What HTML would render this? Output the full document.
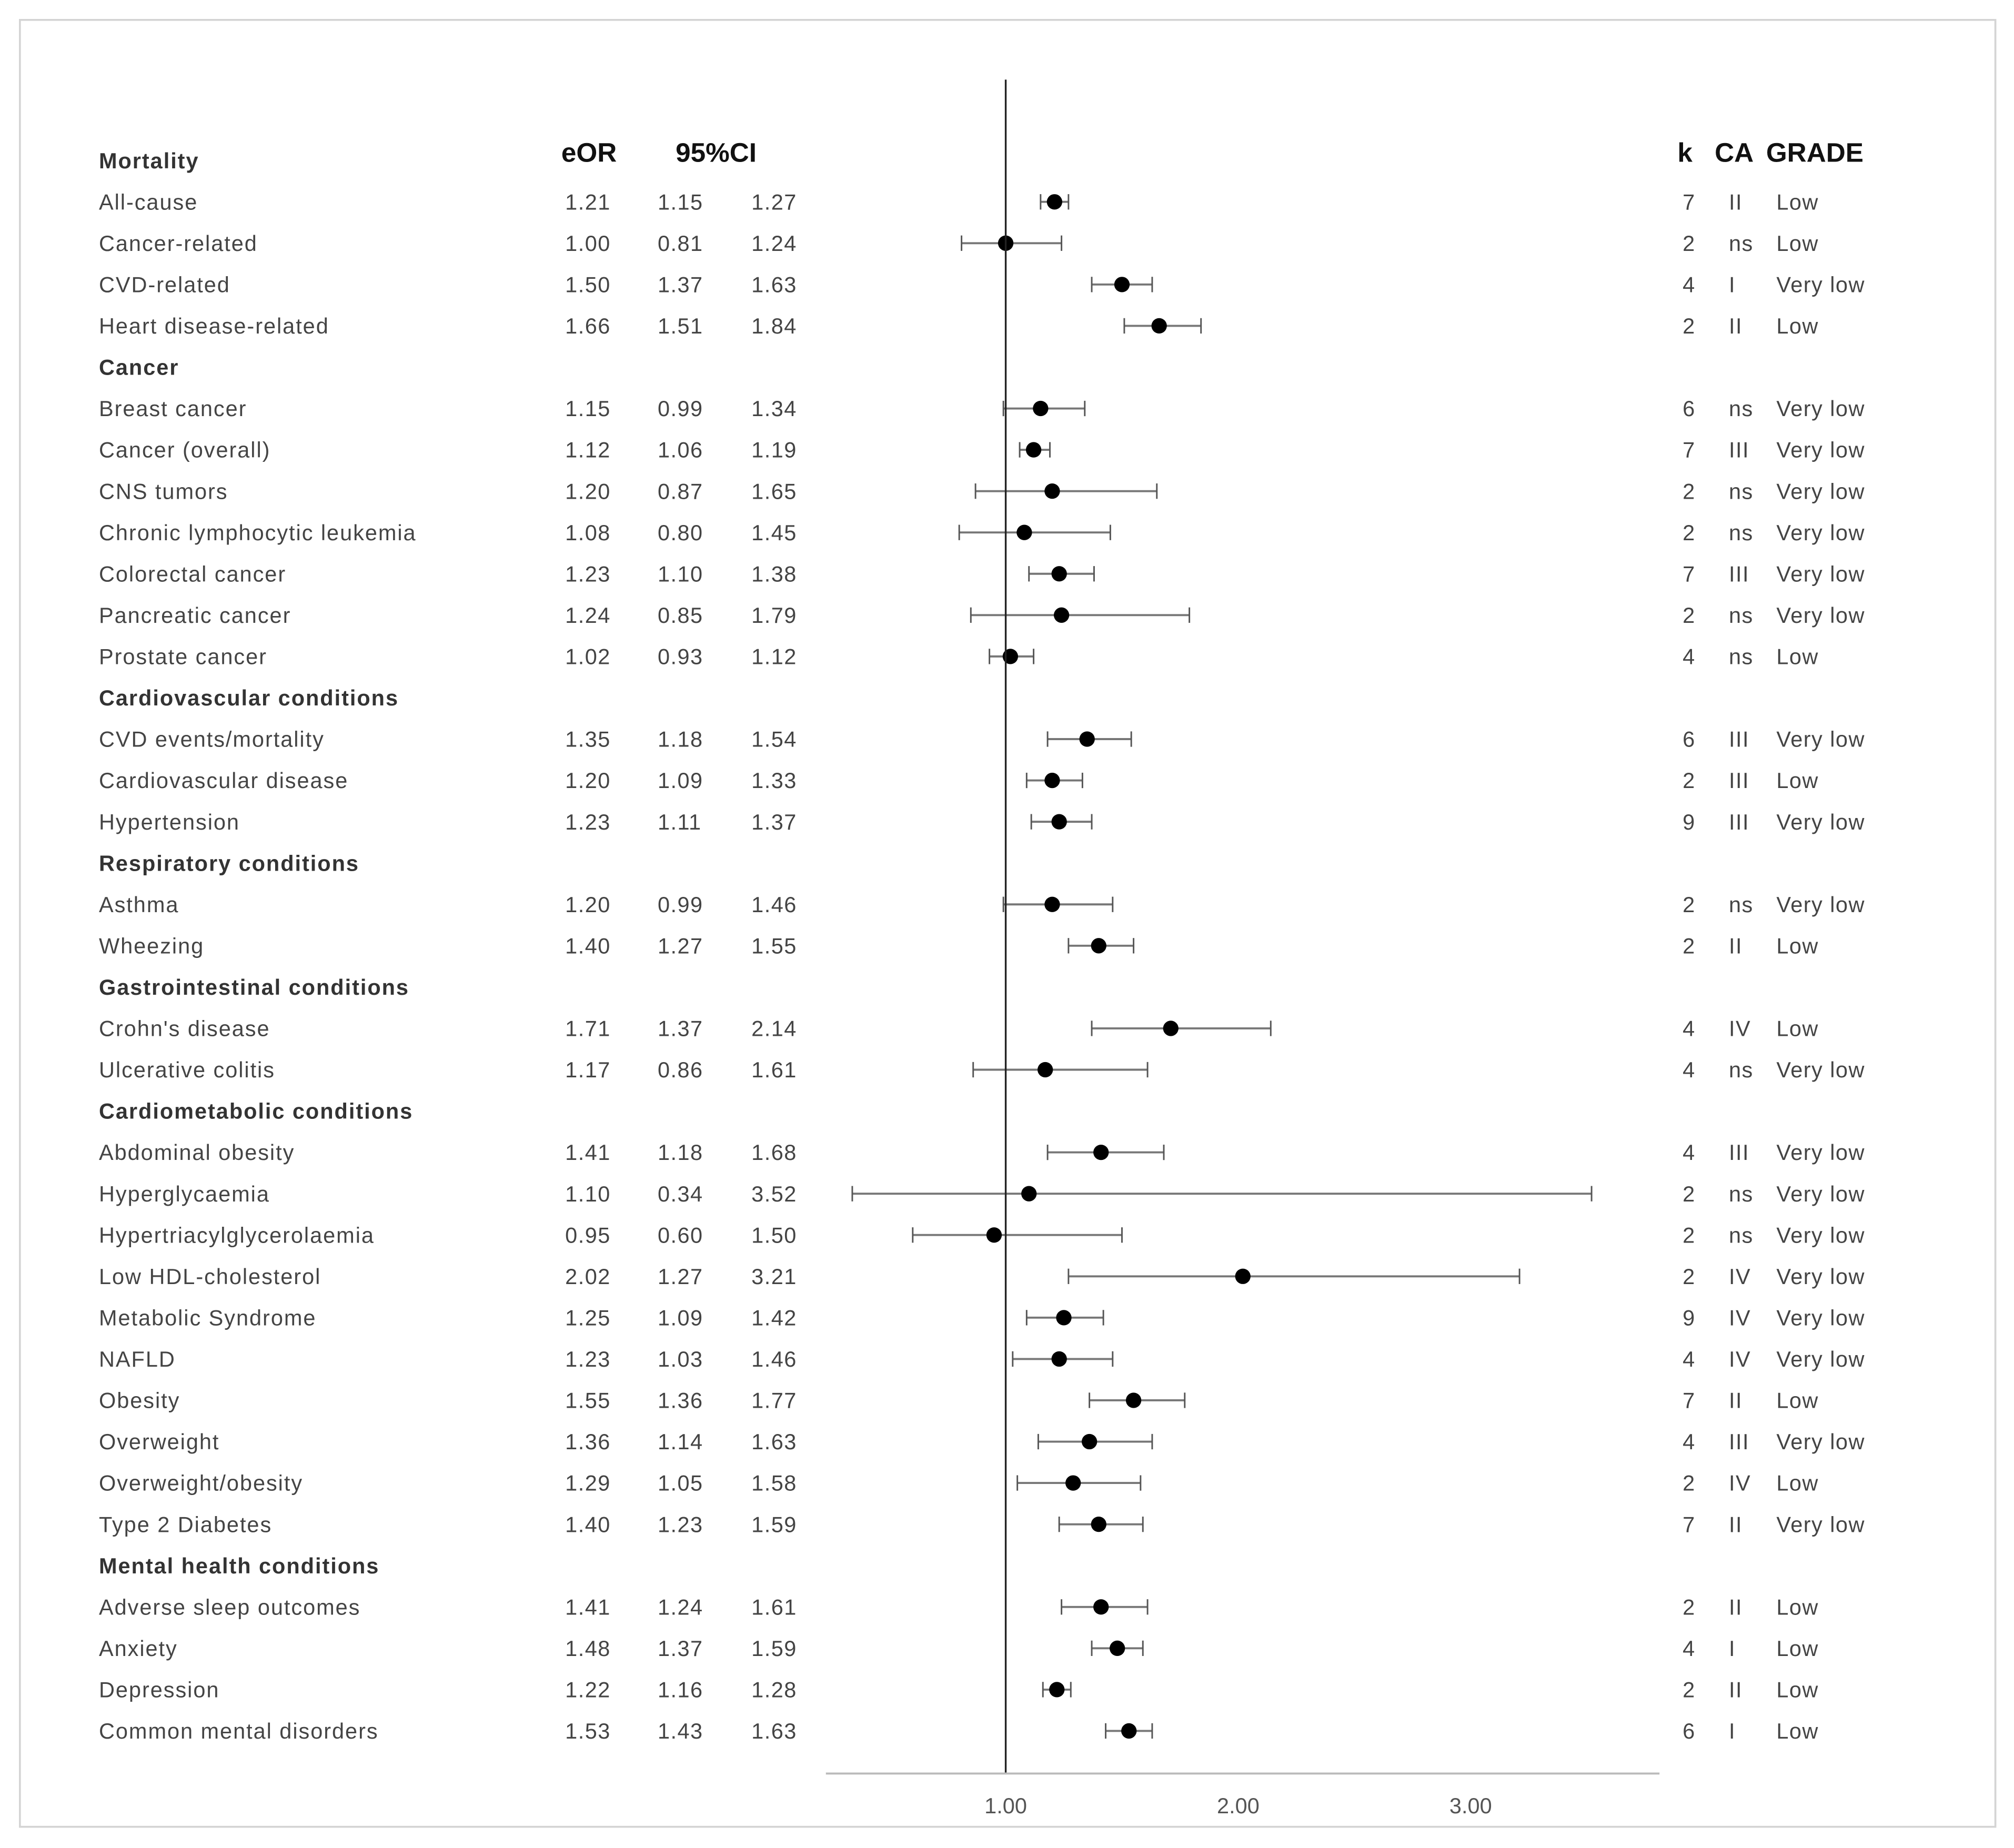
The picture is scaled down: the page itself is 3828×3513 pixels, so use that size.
<!DOCTYPE html>
<html><head><meta charset="utf-8"><style>
html,body{margin:0;padding:0;background:#fff;}
svg{display:block;}
text{font-family:"Liberation Sans",sans-serif;}
</style></head><body>
<svg id="chart" width="3828" height="3513" viewBox="0 0 1568 1439" preserveAspectRatio="none" xmlns="http://www.w3.org/2000/svg">
<rect x="15.5" y="15.5" width="1538" height="1407" fill="#fff" stroke="#d4d4d4" stroke-width="1.5"/>
<g id="headers" font-weight="bold" font-size="21" fill="#111">
<text x="437" y="126">eOR</text>
<text x="526" y="126">95%CI</text>
<text x="1306" y="126">k</text>
<text x="1335" y="126">CA</text>
<text x="1375" y="126">GRADE</text>
</g>
<g id="rows"></g>
<g id="marks"></g>
<g id="axis"></g>
</svg>
<script>
const labels=["Mortality","All-cause","Cancer-related","CVD-related","Heart disease-related","Cancer","Breast cancer","Cancer (overall)","CNS tumors","Chronic lymphocytic leukemia","Colorectal cancer","Pancreatic cancer","Prostate cancer","Cardiovascular conditions","CVD events/mortality","Cardiovascular disease","Hypertension","Respiratory  conditions","Asthma","Wheezing","Gastrointestinal conditions","Crohn's disease","Ulcerative colitis","Cardiometabolic conditions","Abdominal obesity","Hyperglycaemia","Hypertriacylglycerolaemia","Low HDL-cholesterol","Metabolic Syndrome","NAFLD","Obesity","Overweight","Overweight/obesity","Type 2 Diabetes","Mental health conditions","Adverse sleep outcomes","Anxiety","Depression","Common mental disorders"];
const isHeader=[1,0,0,0,0,1,0,0,0,0,0,0,0,1,0,0,0,1,0,0,1,0,0,1,0,0,0,0,0,0,0,0,0,0,1,0,0,0,0];
const eor=[null,1.21,1.00,1.50,1.66,null,1.15,1.12,1.20,1.08,1.23,1.24,1.02,null,1.35,1.20,1.23,null,1.20,1.40,null,1.71,1.17,null,1.41,1.10,0.95,2.02,1.25,1.23,1.55,1.36,1.29,1.40,null,1.41,1.48,1.22,1.53];
const ciLow=[null,1.15,0.81,1.37,1.51,null,0.99,1.06,0.87,0.80,1.10,0.85,0.93,null,1.18,1.09,1.11,null,0.99,1.27,null,1.37,0.86,null,1.18,0.34,0.60,1.27,1.09,1.03,1.36,1.14,1.05,1.23,null,1.24,1.37,1.16,1.43];
const ciHigh=[null,1.27,1.24,1.63,1.84,null,1.34,1.19,1.65,1.45,1.38,1.79,1.12,null,1.54,1.33,1.37,null,1.46,1.55,null,2.14,1.61,null,1.68,3.52,1.50,3.21,1.42,1.46,1.77,1.63,1.58,1.59,null,1.61,1.59,1.28,1.63];
const kVals=["","7","2","4","2","","6","7","2","2","7","2","4","","6","2","9","","2","2","","4","4","","4","2","2","2","9","4","7","4","2","7","","2","4","2","6"];
const caVals=["","II","ns","I","II","","ns","III","ns","ns","III","ns","ns","","III","III","III","","ns","II","","IV","ns","","III","ns","ns","IV","IV","IV","II","III","IV","II","","II","I","II","I"];
const gradeVals=["","Low","Low","Very low","Low","","Very low","Very low","Very low","Very low","Very low","Very low","Low","","Very low","Low","Very low","","Very low","Low","","Low","Very low","","Very low","Very low","Very low","Very low","Very low","Very low","Low","Very low","Low","Very low","","Low","Low","Low","Low"];
const xTicks=[1,2,3];
const xTickLabels=["1.00","2.00","3.00"];

const NS="http://www.w3.org/2000/svg";
const xScale=v=>783+(v-1)*181;
const yScale=i=>125+i*32.18;
function mk(tag,attrs,parent,txt){const e=document.createElementNS(NS,tag);for(const k in attrs)e.setAttribute(k,attrs[k]);if(txt!==undefined)e.textContent=txt;parent.appendChild(e);return e;}
const rows=document.getElementById('rows'),marks=document.getElementById('marks'),axis=document.getElementById('axis');
const f2=v=>v.toFixed(2);
labels.forEach((lab,i)=>{
  const y=yScale(i)+6;
  const t=mk('text',{x:77,y:y,'font-size':17,'letter-spacing':0.8,fill:isHeader[i]?'#333':'#444','font-weight':isHeader[i]?'bold':'normal'},rows,lab);
  
  
  if(eor[i]===null)return;
  const cols=[[440,f2(eor[i]),'eor-value'],[512,f2(ciLow[i]),'ci-lower-value'],[585,f2(ciHigh[i]),'ci-upper-value'],[1310,kVals[i],'k-value'],[1346,caVals[i],'ca-value'],[1383,gradeVals[i],'grade-value']];
  cols.forEach(c=>{
    const tt=mk('text',{x:c[0],y:y,'font-size':17,'letter-spacing':0.6,fill:'#444'},rows,c[1]);
    
    
  });
  const yc=yScale(i);
  const g=mk('g',{},marks);
  
  
  const x1=xScale(ciLow[i]),x2=xScale(ciHigh[i]);
  const l=mk('line',{x1:x1,x2:x2,y1:yc,y2:yc,stroke:'#777','stroke-width':1.6},g);
  
  
  [x1,x2].forEach(xx=>{
    const cap=mk('line',{x1:xx,x2:xx,y1:yc-6,y2:yc+6,stroke:'#555','stroke-width':1.2},g);
    
    
  });
  const d=mk('circle',{cx:xScale(eor[i]),cy:yc,r:6,fill:'#000'},g);
  
  
});
const ref=mk('line',{x1:xScale(1),x2:xScale(1),y1:62,y2:1381,stroke:'#222','stroke-width':1.4},axis);


const ax=mk('line',{x1:643,x2:1292,y1:1381,y2:1381,stroke:'#bbb','stroke-width':1.6},axis);


xTicks.forEach((v,i)=>{
  const t=mk('text',{x:xScale(v),y:1412,'font-size':17,fill:'#555','text-anchor':'middle'},axis,xTickLabels[i]);
  
  
});
</script>
</body></html>
